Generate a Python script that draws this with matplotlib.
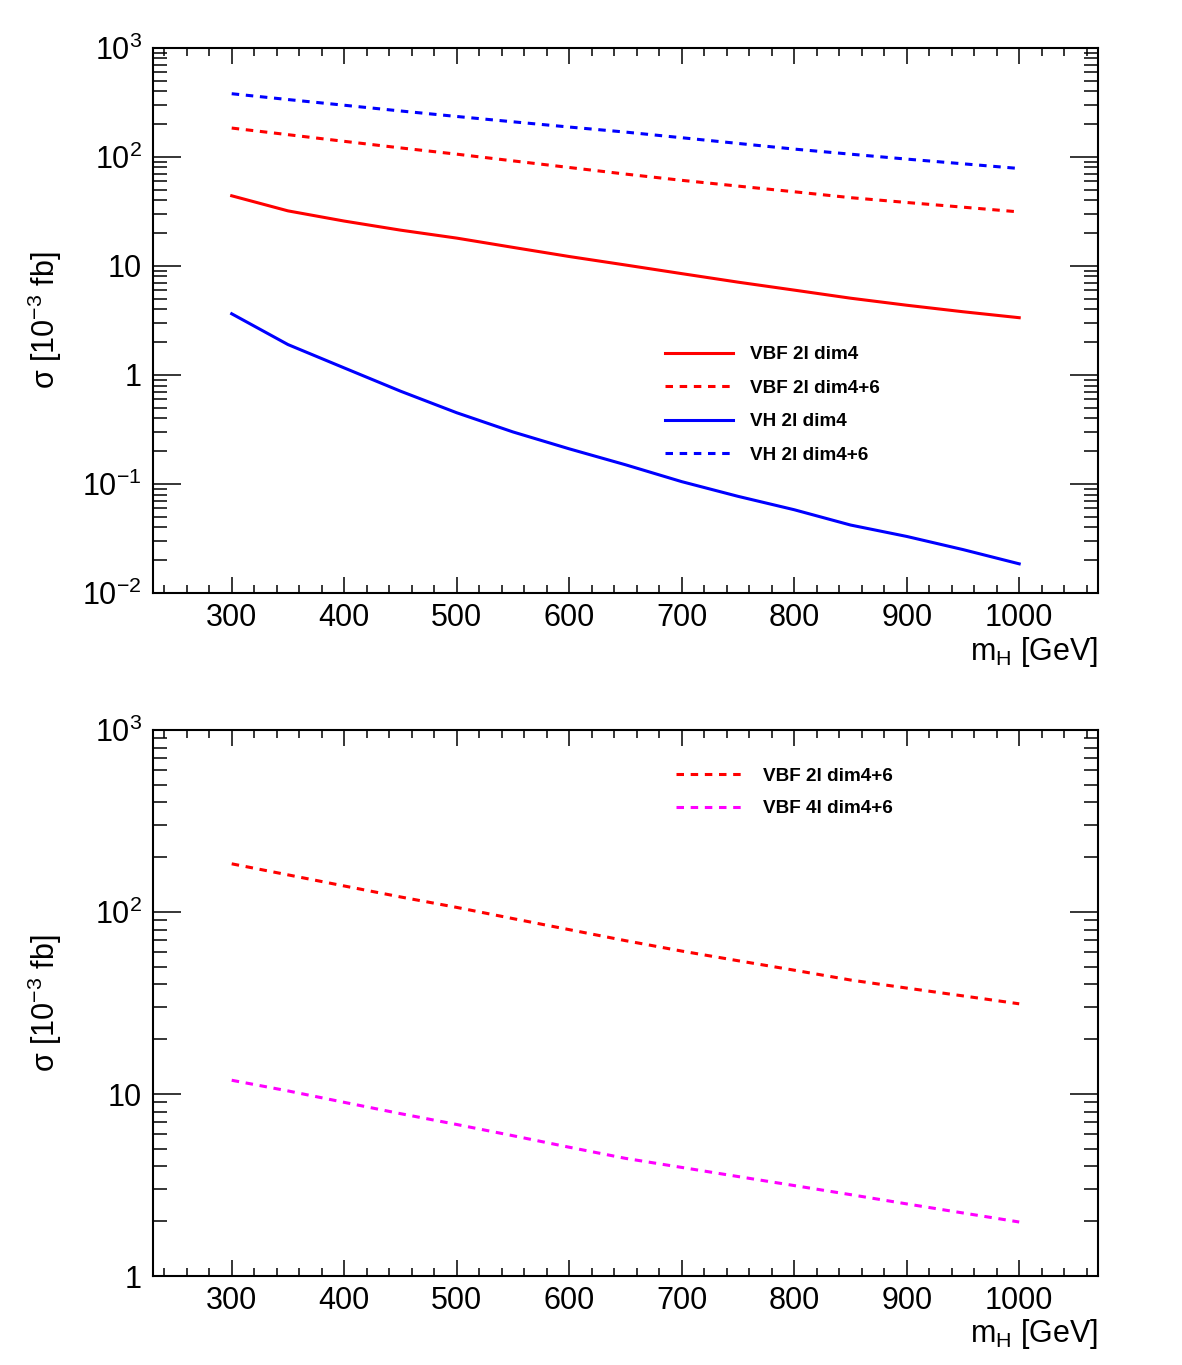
#! /usr/bin/env python
# -*- coding: utf-8 -*-

import math
import matplotlib
matplotlib.use('Agg')
import matplotlib.pyplot as plt
import matplotlib.ticker as ticker

# Podatki, odcitani s slike (sigma v 10^-3 fb)
mass = [300, 350, 400, 450, 500, 550, 600, 650, 700, 750, 800, 850, 900, 950, 1000]
vbf_2l_dim4 = [44, 32, 25.8, 21.3, 18.0, 14.8, 12.2, 10.2, 8.5, 7.1, 6.0, 5.06, 4.36, 3.8, 3.35]
vbf_2l_dim46 = [184, 160, 139, 121, 106, 92, 80, 69.6, 61, 54, 47.9, 42.3, 38.2, 34.6, 31.3]
vh_2l_dim4 = [3.64, 1.9, 1.16, 0.71, 0.45, 0.30, 0.21, 0.15, 0.105, 0.077, 0.058, 0.042, 0.033, 0.025, 0.0185]
vh_2l_dim46 = [380, 336, 298, 264, 235, 210, 188, 169, 150, 133, 118, 106, 95.5, 86.5, 78.3]
vbf_4l_dim46 = [11.9, 10.4, 9.0, 7.8, 6.8, 5.9, 5.1, 4.43, 3.95, 3.52, 3.14, 2.8, 2.49, 2.22, 1.98]

plt.rcParams['font.family'] = ['Liberation Sans', 'DejaVu Sans']
plt.rcParams['mathtext.fontset'] = 'custom'
plt.rcParams['mathtext.rm'] = 'Liberation Sans'
plt.rcParams['mathtext.it'] = 'Liberation Sans:italic'
plt.rcParams['lines.scale_dashes'] = False

lw = 2.2
dash = (5.4, 4.8)


# Oznake na logaritemski osi v slogu ROOT
def fmt(v, pos):
    e = int(round(math.log10(v)))
    if e == 0:
        return '1'
    if e == 1:
        return '10'
    return r'10$^{%d}$' % e


def style_axes(ax, ymin, ymax, xlab_y):
    ax.set_xlim(230, 1070)
    ax.set_yscale('log')
    ax.set_ylim(ymin, ymax)
    ax.xaxis.set_major_locator(ticker.MultipleLocator(100))
    ax.xaxis.set_minor_locator(ticker.MultipleLocator(20))
    ax.yaxis.set_major_locator(ticker.LogLocator(base=10, numticks=20))
    ax.yaxis.set_minor_locator(ticker.LogLocator(base=10, subs=range(2, 10), numticks=20))
    ax.yaxis.set_major_formatter(ticker.FuncFormatter(fmt))
    ax.yaxis.set_minor_formatter(ticker.NullFormatter())
    ax.tick_params(axis='both', which='both', direction='in', top=True, right=True,
                   width=1.1, labelsize=22)
    ax.tick_params(axis='x', which='major', length=11.5, pad=7)
    ax.tick_params(axis='x', which='minor', length=5.8)
    ax.tick_params(axis='y', which='major', length=20, pad=8)
    ax.tick_params(axis='y', which='minor', length=10)
    for s in ax.spines.values():
        s.set_linewidth(1.5)
    ax.set_ylabel(u'σ [10$^{-3}$ fb]', fontsize=22, va='center')
    ax.yaxis.set_label_coords(-0.114, 0.5)
    ax.set_xlabel(r'm$_{\mathrm{H}}$ [GeV]', fontsize=22, ha='right')
    ax.xaxis.set_label_coords(1.0, xlab_y)


fig = plt.figure(figsize=(11.82, 13.65), dpi=100)

# Zgornji graf
ax1 = fig.add_axes([0.1294, 0.5656, 0.7995, 0.3993])
ax1.plot(mass, vbf_2l_dim4, color='#ff0000', lw=lw, label='VBF 2l dim4')
ax1.plot(mass, vbf_2l_dim46, color='#ff0000', lw=lw, dashes=dash, label='VBF 2l dim4+6')
ax1.plot(mass, vh_2l_dim4, color='#0000ff', lw=lw, label='VH 2l dim4')
ax1.plot(mass, vh_2l_dim46, color='#0000ff', lw=lw, dashes=dash, label='VH 2l dim4+6')
style_axes(ax1, 1e-2, 1e3, -0.077)
ax1.legend(loc='upper left', bbox_to_anchor=(0.5418, 0.453), frameon=False,
           borderpad=0, borderaxespad=0, handlelength=3.6, handletextpad=0.9,
           labelspacing=0.86, prop={'weight': 'bold', 'size': 13.6})

# Spodnji graf
ax2 = fig.add_axes([0.1294, 0.0652, 0.7995, 0.4])
ax2.plot(mass, vbf_2l_dim46, color='#ff0000', lw=lw, dashes=dash, label='VBF 2l dim4+6')
ax2.plot(mass, vbf_4l_dim46, color='#ff00ff', lw=lw, dashes=dash, label='VBF 4l dim4+6')
style_axes(ax2, 1, 1e3, -0.075)
ax2.legend(loc='upper left', bbox_to_anchor=(0.5534, 0.931), frameon=False,
           borderpad=0, borderaxespad=0, handlelength=3.7, handletextpad=0.9,
           labelspacing=0.8, prop={'weight': 'bold', 'size': 13.6})

plt.savefig('out.png', dpi=100)
